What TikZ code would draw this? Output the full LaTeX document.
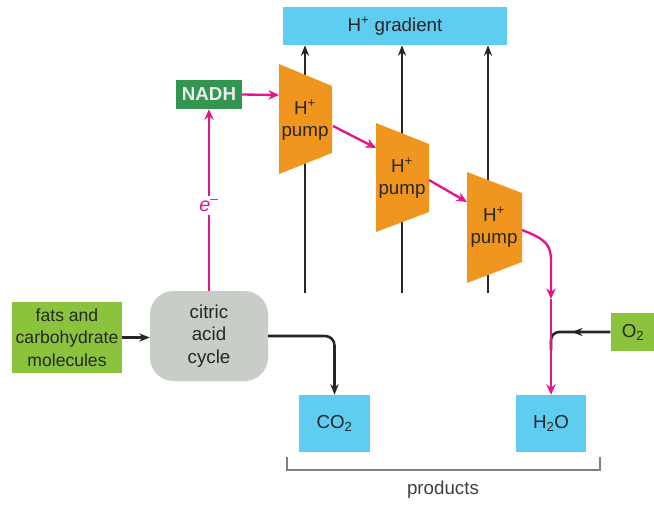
\documentclass[tikz,border=0pt]{standalone}
\usepackage{fontspec}
\setmainfont{Liberation Sans}
\usetikzlibrary{arrows.meta}
\definecolor{cyanbox}{RGB}{95,205,240}
\definecolor{pumporange}{RGB}{240,150,30}
\definecolor{nadhgreen}{RGB}{50,150,80}
\definecolor{fatgreen}{RGB}{140,195,60}
\definecolor{cycgray}{RGB}{200,205,200}
\definecolor{epink}{RGB}{230,20,140}

\tikzset{
	txt/.style={font=\fontsize{16}{19}\selectfont, align=center, text=black!85},
	prodbox/.style={txt, fill=cyanbox, minimum width=2.12cm, minimum height=1.71cm},
	hline/.style={line width=2.2pt, black!85, -{Stealth[length=9pt,width=7pt]}},
	eline/.style={line width=2pt, epink, -{Stealth[length=9pt,width=8pt]}},
}

\begin{document}
\begin{tikzpicture}[x=0.03cm,y=-0.03cm]
			\useasboundingbox (0,0) rectangle (654,504);
			% boxes
			\node[txt, fill=cyanbox, minimum width=6.72cm, minimum height=1.14cm] (grad) at (395,26) {H\textsuperscript{+} gradient};
			\node[txt, fill=nadhgreen, text=white!92!black, font=\fontsize{16}{19}\selectfont\bfseries, minimum width=1.98cm, minimum height=0.87cm] (nadh) at (209,94.5) {NADH};
			\node[txt, fill=fatgreen, font=\fontsize{15}{19}\selectfont, minimum width=3.3cm, minimum height=2.13cm] (fats) at (67,337.5) {fats and\\carbohydrate\\molecules};
			\node[txt, fill=cycgray, rounded corners=20pt, minimum width=3.54cm, minimum height=2.7cm] (cac) at (209,336) {citric\\acid\\cycle};
			\node[prodbox] (co2) at (334.5,423.5) {CO\textsubscript{2}};
			\node[prodbox] (h2o) at (551,423.5) {H\textsubscript{2}O};
			\node[txt, fill=fatgreen, minimum width=1.35cm, minimum height=1.14cm] (oxy) at (633,332) {O\textsubscript{2}};
			
			% proton lines, behind the pumps
			\coordinate (ba) at (305,293);
			\coordinate (bb) at (402,293);
			\coordinate (bc) at (488,293);
			\draw[hline] (ba) -- (ba |- grad.south);
			\draw[hline] (bb) -- (bb |- grad.south);
			\draw[hline] (bc) -- (bc |- grad.south);
			
			% pumps
			\fill[pumporange] (279,64) -- (332,86) -- (332,153) -- (279,174) -- cycle;
			\fill[pumporange] (376,123) -- (429,144) -- (429,212) -- (376,232) -- cycle;
			\fill[pumporange] (467,172) -- (522,193) -- (522,262) -- (467,283) -- cycle;
			\node[txt] (pumpa) at (305,120) {H\textsuperscript{+}\\pump};
			\node[txt] (pumpb) at (402,178) {H\textsuperscript{+}\\pump};
			\node[txt] (pumpc) at (494,227) {H\textsuperscript{+}\\pump};
			\coordinate (pa-in) at (279,95);
			\coordinate (pa-out) at (333,126);
			\coordinate (pb-in) at (376,148);
			\coordinate (pb-out) at (429,180);
			\coordinate (pc-in) at (467,202);
			\coordinate (pc-out) at (522,230);
			
			% black connectors
			\draw[hline] (fats.east) -- (fats.east -| cac.west);
			\draw[hline, rounded corners=8pt] (cac.east) -| (co2.north);
			\coordinate (jn) at (551,350);
			\coordinate (otip) at (572,331);
			\draw[line width=2.2pt, black!85, rounded corners=7pt] (oxy.west) -| (jn);
			\draw[hline] (oxy.west) -- (otip |- oxy.west);
			
			% electrons
			\draw[eline] (cac.north) -- (nadh.south) node[pos=0.47, fill=white, inner sep=3pt, text=epink, font=\fontsize{17}{19}\selectfont\itshape] (elab) {e\textsuperscript{–}};
			\draw[eline] (nadh.east) -- (pa-in);
			\draw[eline] (pa-out) -- (pb-in);
			\draw[eline] (pb-out) -- (pc-in);
			\coordinate (mid) at (551,299);
			\draw[eline] (pc-out) .. controls (548,240) and (551,246) .. (551,262) -- (mid);
			\draw[eline] (mid) -- (h2o.north);
			
			% products
			\draw[gray, line width=1.4pt] (287,457) -- (287,470) -- (600,470) -- (600,457);
			\node[txt, text=black!75] (prod) at (443,490) {products};
\end{tikzpicture}
\end{document}
